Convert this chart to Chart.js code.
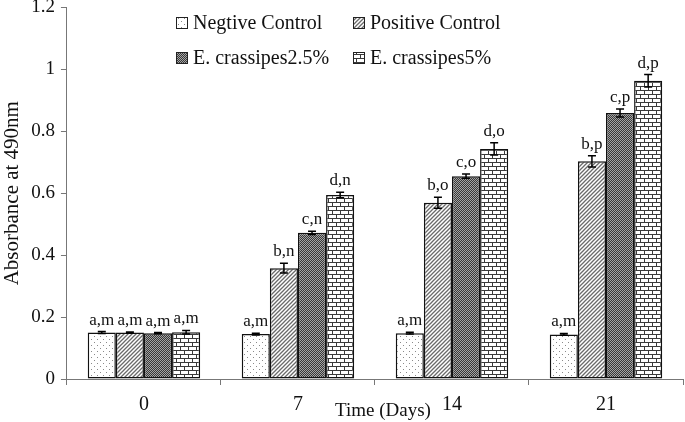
<!DOCTYPE html>
<html>
<head>
<meta charset="utf-8">
<script src="https://cdn.jsdelivr.net/npm/chart.js@4.4.1/dist/chart.umd.min.js"></script>
<style>
  html, body { margin: 0; padding: 0; background: #fff; overflow: hidden; }
  #wrap { width: 685px; height: 436px; margin-top: -10px; }
</style>
</head>
<body>
<div id="wrap"><canvas id="absChart" width="685" height="436"></canvas></div>
<script>
// days on the x axis
var days = ["0", "7", "14", "21"]
var seriesNames = ["Negtive Control", "Positive Control", "E. crassipes2.5%", "E. crassipes5%"]
var yTicks = [0, 0.2, 0.4, 0.6, 0.8, 1, 1.2]

// mean absorbance per series
var negMeans = [0.150, 0.145, 0.148, 0.144]
var posMeans = [0.150, 0.358, 0.569, 0.703]
var e25Means = [0.148, 0.472, 0.655, 0.859]
var e5Means  = [0.151, 0.594, 0.743, 0.963]

// error (+/-)
var negErr = [0.003, 0.003, 0.003, 0.003]
var posErr = [0.002, 0.016, 0.018, 0.018]
var e25Err = [0.002, 0.005, 0.007, 0.013]
var e5Err  = [0.006, 0.009, 0.020, 0.020]

// significance letters
var negLetters = ["a,m", "a,m", "a,m", "a,m"]
var posLetters = ["a,m", "b,n", "b,o", "b,p"]
var e25Letters = ["a,m", "c,n", "c,o", "c,p"]
var e5Letters  = ["a,m", "d,n", "d,o", "d,p"]

var serif = "'Liberation Serif', 'Times New Roman', serif"
var shift = 10 // canvas is pulled up by this much

// fill patterns
function makePattern(kind) {
    var c = document.createElement("canvas")
    var x = c.getContext("2d")
    if (kind == "dots") {
        c.width = 6; c.height = 6
        x.fillStyle = "#fff"; x.fillRect(0, 0, 6, 6)
        x.fillStyle = "#8a8a8a"
        x.fillRect(1, 1, 1, 1)
        x.fillRect(4, 4, 1, 1)
    } else if (kind == "diag") {
        c.width = 4; c.height = 4
        x.fillStyle = "#fff"; x.fillRect(0, 0, 4, 4)
        x.strokeStyle = "#6a6a6a"; x.lineWidth = 1.3
        x.beginPath()
        x.moveTo(-1, 5); x.lineTo(5, -1)
        x.moveTo(-1, 1); x.lineTo(1, -1)
        x.moveTo(3, 5); x.lineTo(5, 3)
        x.stroke()
    } else if (kind == "check") {
        c.width = 2; c.height = 2
        x.fillStyle = "#383838"; x.fillRect(0, 0, 2, 2)
        x.fillStyle = "#a4a4a4"
        x.fillRect(0, 0, 1, 1)
        x.fillRect(1, 1, 1, 1)
    } else {
        c.width = 8; c.height = 8
        x.fillStyle = "#fff"; x.fillRect(0, 0, 8, 8)
        x.fillStyle = "#3a3a3a"
        x.fillRect(0, 0, 8, 1)
        x.fillRect(0, 4, 8, 1)
        x.fillRect(0, 0, 1, 4)
        x.fillRect(4, 4, 1, 4)
    }
    return x.createPattern(c, "repeat")
}

var patterns = [makePattern("dots"), makePattern("diag"), makePattern("check"), makePattern("brick")]
var allMeans = [negMeans, posMeans, e25Means, e5Means]
var allErr = [negErr, posErr, e25Err, e5Err]
var allLetters = [negLetters, posLetters, e25Letters, e5Letters]

var datasets = []
for (var i = 0; i < 4; i++) {
    datasets.push({
        label: seriesNames[i],
        data: allMeans[i],
        backgroundColor: patterns[i],
        borderColor: "#111",
        borderWidth: 1.5,
        borderSkipped: false,
        categoryPercentage: 0.73,
        barPercentage: 1.0
    })
}

// error bars + letters above bars
var errorBarPlugin = {
    id: "errorBars",
    afterDatasetsDraw: function(chart) {
        var ctx = chart.ctx
        var yScale = chart.scales.y
        ctx.save()
        for (var d = 0; d < chart.data.datasets.length; d++) {
            var meta = chart.getDatasetMeta(d)
            meta.data.forEach(function(bar, j) {
                var v = allMeans[d][j], e = allErr[d][j]
                var top = yScale.getPixelForValue(v + e)
                var bot = yScale.getPixelForValue(v - e)
                ctx.strokeStyle = "#000"
                ctx.lineWidth = 1.5
                ctx.beginPath()
                ctx.moveTo(bar.x, top); ctx.lineTo(bar.x, bot)
                ctx.moveTo(bar.x - 4, top); ctx.lineTo(bar.x + 4, top)
                ctx.moveTo(bar.x - 4, bot); ctx.lineTo(bar.x + 4, bot)
                ctx.stroke()
                ctx.fillStyle = "#111"
                ctx.font = "17px " + serif
                ctx.textAlign = "center"
                ctx.textBaseline = "bottom"
                ctx.fillText(allLetters[d][j], bar.x, top - 3)
            })
        }
        ctx.restore()
    }
}

// 2x2 legend inside the plot + x title sitting on the tick row
var legendPlugin = {
    id: "gridLegend",
    afterDraw: function(chart) {
        var ctx = chart.ctx
        var cols = [176, 353]
        var rows = [23 + shift, 58 + shift]
        ctx.save()
        ctx.font = "20px " + serif
        ctx.textBaseline = "middle"
        ctx.textAlign = "left"
        for (var i = 0; i < 4; i++) {
            var bx = cols[i % 2], by = rows[Math.floor(i / 2)]
            ctx.fillStyle = patterns[i]
            ctx.fillRect(bx, by - 6, 12, 12)
            ctx.strokeStyle = "#222"
            ctx.lineWidth = 1
            ctx.strokeRect(bx + 0.5, by - 5.5, 11, 11)
            ctx.fillStyle = "#111"
            ctx.fillText(chart.data.datasets[i].label, bx + 17, by + 1)
        }
        ctx.font = "19px " + serif
        ctx.textAlign = "center"
        ctx.fillText("Time (Days)", 383, 411 + shift)
        ctx.restore()
    }
}

var absChart = new Chart(document.getElementById("absChart"), {
    type: "bar",
    data: { labels: days, datasets: datasets },
    options: {
        responsive: false,
        animation: false,
        layout: { padding: { left: 0, right: 2, top: 0, bottom: 1 } },
        plugins: {
            legend: { display: false },
            tooltip: { enabled: false }
        },
        scales: {
            x: {
                grid: {
                    offset: true,
                    drawOnChartArea: false,
                    drawTicks: true,
                    tickLength: 6,
                    color: "#777"
                },
                border: { color: "#777", width: 1 },
                ticks: {
                    color: "#111",
                    padding: 8,
                    font: { family: serif, size: 20 }
                }
            },
            y: {
                min: 0,
                max: 1.2,
                afterBuildTicks: function(axis) {
                    axis.ticks = yTicks.map(function(v) { return { value: v } })
                },
                grid: {
                    drawOnChartArea: false,
                    tickLength: 6,
                    color: "#777"
                },
                border: { color: "#777", width: 1 },
                ticks: {
                    color: "#111",
                    padding: 6,
                    font: { family: serif, size: 19 },
                    callback: function(v) { return String(Math.round(v * 10) / 10) }
                },
                title: {
                    display: true,
                    text: "Absorbance at 490nm",
                    color: "#111",
                    padding: { top: 0, bottom: 0 },
                    font: { family: serif, size: 21 }
                }
            }
        }
    },
    plugins: [errorBarPlugin, legendPlugin]
});
</script>
</body>
</html>
